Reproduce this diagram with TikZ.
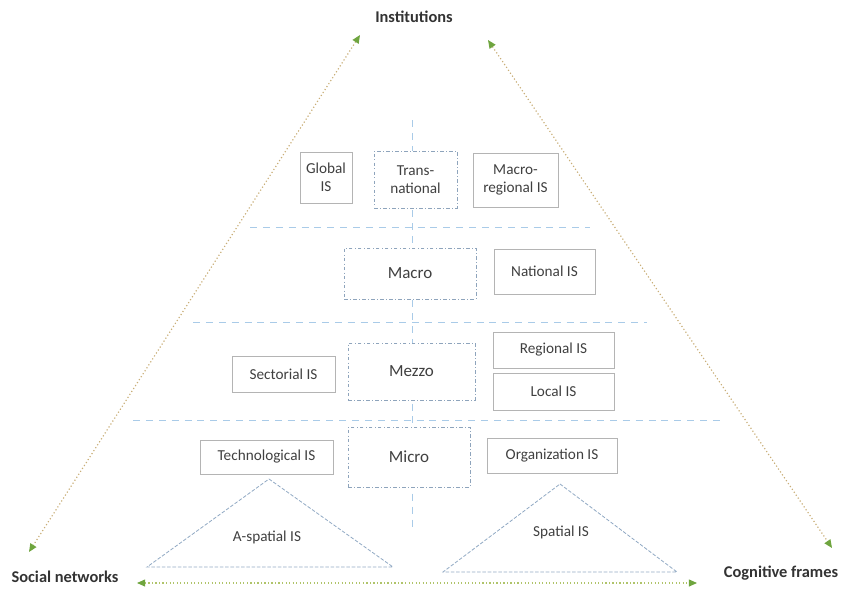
\documentclass[tikz,border=0pt]{standalone}
\usepackage{fontspec}
\setmainfont{Carlito}
\usetikzlibrary{arrows.meta,positioning}
\definecolor{txtgray}{HTML}{404040}
\definecolor{boxgray}{HTML}{B4B4B4}
\definecolor{lvlblue}{HTML}{8EA4BC}
\definecolor{sepblue}{HTML}{A9CBE8}
\definecolor{triblue}{HTML}{92AAC4}
\definecolor{tanline}{HTML}{C9AE78}
\definecolor{limeline}{HTML}{B0C46A}
\definecolor{tipgreen}{HTML}{6FA53F}

\begin{document}
\begin{tikzpicture}[x=0.03cm, y=-0.03cm,
    font=\fontsize{13pt}{15pt}\selectfont, text=txtgray,
    isbox/.style={draw=boxgray, line width=0.7pt, fill=white,
                  align=center, inner sep=1pt},
    lvlbox/.style={draw=lvlblue, line width=0.7pt, dash dot, fill=white,
                   align=center, font=\fontsize{14.5pt}{17pt}\selectfont},
    sep/.style={draw=sepblue, line width=0.8pt, dash pattern=on 6pt off 5pt},
    tri/.style={draw=triblue, line width=0.7pt, dash pattern=on 3pt off 1.5pt},
    link/.style={<->, line width=1pt, dotted,
                 >={Triangle[length=7pt, width=6pt, fill=tipgreen, color=tipgreen]}},
    corner/.style={font=\bfseries\fontsize{14pt}{16pt}\selectfont, text=black!80}]

\useasboundingbox (0,0) rectangle (843,590);

\coordinate (axtop) at (412,120);
\coordinate (axbot) at (412,530);
\coordinate (sepA-l) at (250,227);
\coordinate (sepA-r) at (590,227);
\coordinate (sepB-l) at (193,322);
\coordinate (sepB-r) at (647,322);
\coordinate (sepC-l) at (133,420);
\coordinate (sepC-r) at (720,420);

\draw[sep] (sepA-l) -- (sepA-r);
\draw[sep] (sepB-l) -- (sepB-r);
\draw[sep] (sepC-l) -- (sepC-r);
\draw[sep] (axtop) -- (axbot);

\node[isbox, minimum width=1.56cm, minimum height=1.53cm]
    (global) at (326,177.5) {Global\\IS};
\node[lvlbox, minimum width=2.49cm, minimum height=1.71cm,
      font=\fontsize{13pt}{15pt}\selectfont]
    (trans) at (415.5,179.5) {Trans-\\national};
\node[isbox, minimum width=2.55cm, minimum height=1.62cm]
    (macroreg) at (515.5,180) {Macro-\\regional IS};

\node[lvlbox, minimum width=3.96cm, minimum height=1.53cm]
    (macro) at (410,273.5) {Macro};
\node[isbox, minimum width=3.03cm, minimum height=1.35cm]
    (national) at (544.5,271.5) {National IS};

\node[isbox, minimum width=3.09cm, minimum height=1.08cm]
    (sectorial) at (283.5,374) {Sectorial IS};
\node[lvlbox, minimum width=3.81cm, minimum height=1.71cm]
    (mezzo) at (411.5,371.5) {Mezzo};
\node[isbox, minimum width=3.63cm, minimum height=1.08cm]
    (regional) at (553.5,350) {Regional IS};
\node[isbox, minimum width=3.63cm, minimum height=1.11cm]
    (local) at (553.5,391.5) {Local IS};

\node[isbox, minimum width=3.99cm, minimum height=1.02cm]
    (techno) at (266.5,457) {Technological IS};
\node[lvlbox, minimum width=3.66cm, minimum height=1.8cm]
    (micro) at (409,457) {Micro};
\node[isbox, minimum width=3.9cm, minimum height=1.05cm]
    (organiz) at (552,455.5) {Organization IS};

\draw[tri] (269,479) -- (393,567) -- (147,567) -- cycle;
\node (aspatial) at (267,537) {A-spatial IS};
\draw[tri] (560,484) -- (677,572) -- (443,572) -- cycle;
\node (spatial) at (561,532) {Spatial IS};

\node[corner] (inst)   at (414,17)  {Institutions};
\node[corner] (social) at (65,577)  {Social networks};
\node[corner] (cogn)   at (781,573) {Cognitive frames};

\coordinate (inst-l) at (360,35);
\coordinate (inst-r) at (488,40);
\coordinate (social-t) at (29,552);
\coordinate (social-r) at (137,583);
\coordinate (cogn-t) at (832,548);
\coordinate (cogn-l) at (697,583);

\draw[link, tanline] (inst-l) -- (social-t);
\draw[link, tanline] (inst-r) -- (cogn-t);
\draw[link, limeline] (social-r) -- (cogn-l);

\end{tikzpicture}
\end{document}
